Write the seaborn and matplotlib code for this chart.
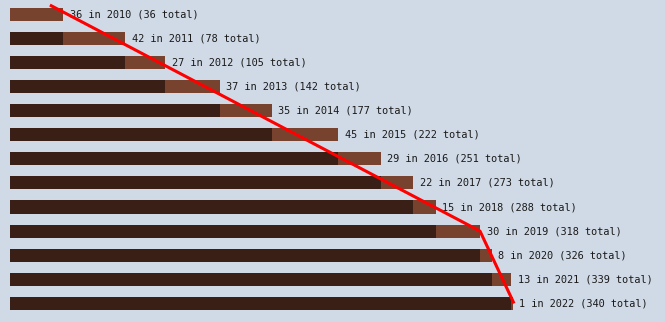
import matplotlib
matplotlib.use("Agg")
import matplotlib.pyplot as plt
import seaborn as sns
import pandas as pd
import numpy as np

years = [2010, 2011, 2012, 2013, 2014, 2015, 2016, 2017, 2018, 2019, 2020, 2021, 2022]
new_counts = [36, 42, 27, 37, 35, 45, 29, 22, 15, 30, 8, 13, 1]
totals = [36, 78, 105, 142, 177, 222, 251, 273, 288, 318, 326, 339, 340]
previous = [t - n for t, n in zip(totals, new_counts)]

# red trend line points (value, row index)
trend_x = [27.0, 318, 341]
trend_y = [-0.38, 9, 12]

df = pd.DataFrame({"year": [str(y) for y in years], "new": new_counts,
                   "total": totals, "previous": previous})

BG = "#d0dae6"
sns.set_theme(style="white")
fig = plt.figure(figsize=(6.65, 3.22), dpi=100, facecolor=BG)
ax = fig.add_axes([0, 0, 1, 1])
ax.set_facecolor(BG)

sns.barplot(data=df, x="total", y="year", orient="h", color="#77432f",
            width=0.54, ax=ax, saturation=1, linewidth=0, edgecolor="none")
sns.barplot(data=df, x="previous", y="year", orient="h", color="#3a1f16",
            width=0.54, ax=ax, saturation=1, linewidth=0, edgecolor="none")

scale = 1.478
for i, (n, y, t) in enumerate(zip(new_counts, years, totals)):
    ax.text(t + 6.5 / scale, i, f"{n} in {y} ({t} total)", va="center", ha="left",
            fontsize=7.4, family="DejaVu Sans Mono", color="#1a1a1a")

ax.plot(trend_x, trend_y, color="#ff0000", lw=2.2, solid_capstyle="butt", zorder=5)

ax.set_xlim(-10 / scale, (665 - 10) / scale)
ax.set_ylim((322 - 14.2) / 24.1, -14.2 / 24.1)
ax.set_axis_off()

fig.savefig("out.png", dpi=100, facecolor=BG)
